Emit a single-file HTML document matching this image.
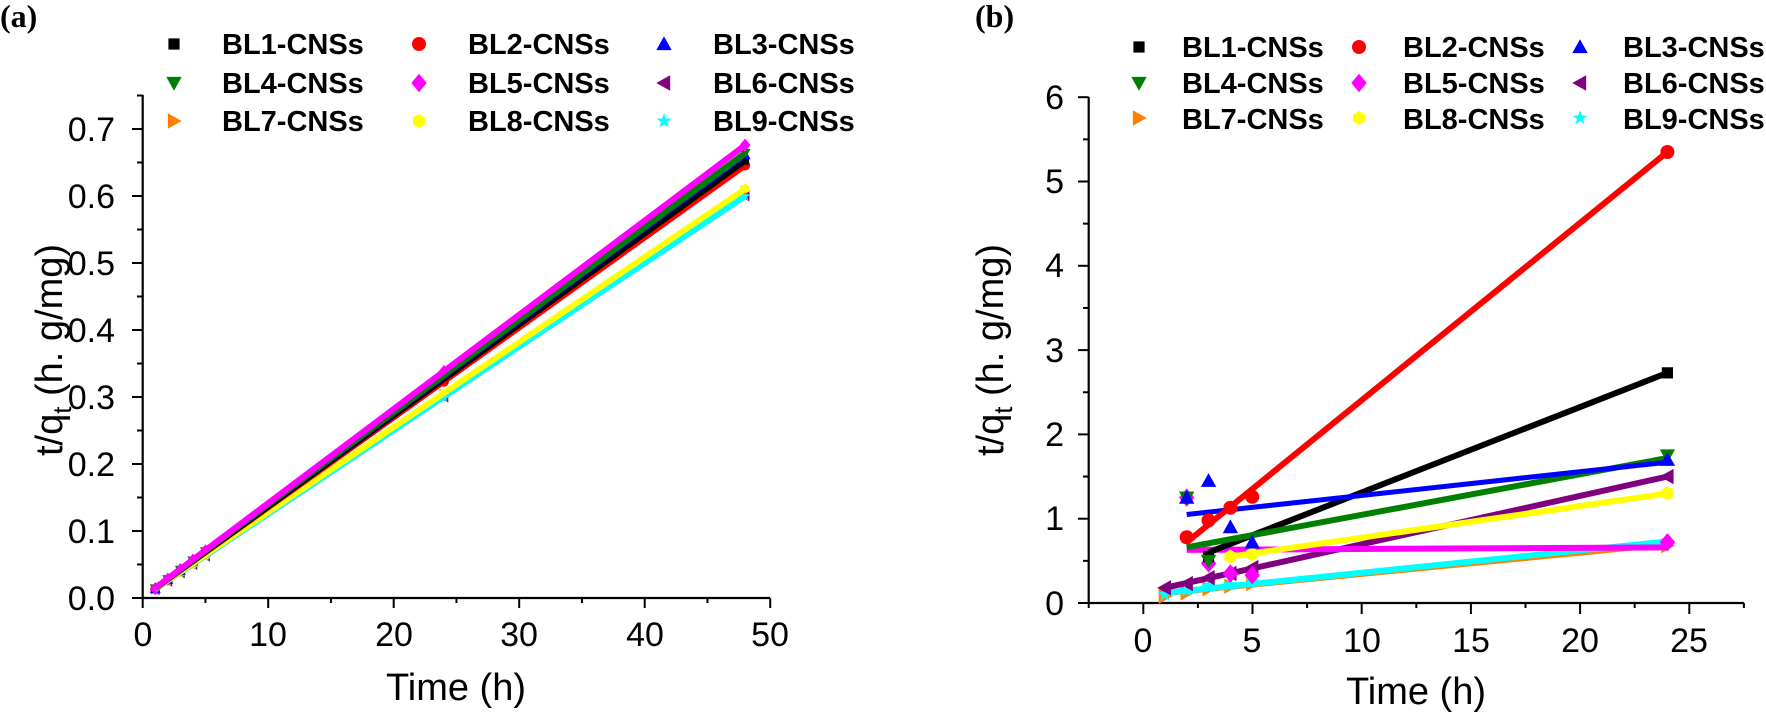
<!DOCTYPE html>
<html><head><meta charset="utf-8"><style>
html,body{margin:0;padding:0;background:#fff}
svg{display:block}
text{font-family:"Liberation Sans",Arial,sans-serif}
.tk{font-size:34px;fill:#000}
.lg{font-size:29px;font-weight:bold;fill:#000}
.at{font-size:38px;fill:#000}
.pl{font-family:"Liberation Serif",serif;font-size:32px;font-weight:bold}
</style></head><body>
<svg id="s" width="1766" height="718" viewBox="0 0 1766 718" xmlns="http://www.w3.org/2000/svg">
<text class="pl" x="0" y="27">(a)</text>
<text class="pl" x="975" y="27">(b)</text>
<g class="lg">
<text class="lg" x="222" y="54">BL1-CNSs</text><text class="lg" x="468" y="54">BL2-CNSs</text><text class="lg" x="713" y="54">BL3-CNSs</text>
<text class="lg" x="222" y="93">BL4-CNSs</text><text class="lg" x="468" y="93">BL5-CNSs</text><text class="lg" x="713" y="93">BL6-CNSs</text>
<text class="lg" x="222" y="131">BL7-CNSs</text><text class="lg" x="468" y="131">BL8-CNSs</text><text class="lg" x="713" y="131">BL9-CNSs</text>
<text class="lg" x="1182" y="57">BL1-CNSs</text><text class="lg" x="1403" y="57">BL2-CNSs</text><text class="lg" x="1623" y="57">BL3-CNSs</text>
<text class="lg" x="1182" y="93">BL4-CNSs</text><text class="lg" x="1403" y="93">BL5-CNSs</text><text class="lg" x="1623" y="93">BL6-CNSs</text>
<text class="lg" x="1182" y="129">BL7-CNSs</text><text class="lg" x="1403" y="129">BL8-CNSs</text><text class="lg" x="1623" y="129">BL9-CNSs</text>
</g>
<g class="tk" text-anchor="end">
<text class="tk" x="115" y="610">0.0</text><text class="tk" x="115" y="543">0.1</text><text class="tk" x="115" y="476">0.2</text><text class="tk" x="115" y="409">0.3</text><text class="tk" x="115" y="342">0.4</text><text class="tk" x="115" y="275">0.5</text><text class="tk" x="115" y="208">0.6</text><text class="tk" x="115" y="141">0.7</text>
</g>
<g class="tk" text-anchor="middle">
<text class="tk" x="143" y="646">0</text><text class="tk" x="268" y="646">10</text><text class="tk" x="394" y="646">20</text><text class="tk" x="519" y="646">30</text><text class="tk" x="645" y="646">40</text><text class="tk" x="770" y="646">50</text>
</g>
<g class="tk" text-anchor="end">
<text class="tk" x="1064" y="615">0</text><text class="tk" x="1064" y="530">1</text><text class="tk" x="1064" y="446">2</text><text class="tk" x="1064" y="362">3</text><text class="tk" x="1064" y="277">4</text><text class="tk" x="1064" y="193">5</text><text class="tk" x="1064" y="109">6</text>
</g>
<g class="tk" text-anchor="middle">
<text class="tk" x="1143" y="652">0</text><text class="tk" x="1252" y="652">5</text><text class="tk" x="1362" y="652">10</text><text class="tk" x="1471" y="652">15</text><text class="tk" x="1580" y="652">20</text><text class="tk" x="1689" y="652">25</text>
</g>
<text class="at" x="456" y="700" text-anchor="middle">Time (h)</text>
<text class="at" x="1416" y="704" text-anchor="middle">Time (h)</text>
<text class="at" transform="translate(62,350) rotate(-90)" text-anchor="middle">t/q<tspan font-size="26" dy="9">t</tspan><tspan dy="-9"> (h. g/mg)</tspan></text>
<text class="at" transform="translate(1003,350) rotate(-90)" text-anchor="middle">t/q<tspan font-size="26" dy="9">t</tspan><tspan dy="-9"> (h. g/mg)</tspan></text>
<g id="g"></g>
</svg>
<script>
var g=document.getElementById('g'),NS='http://www.w3.org/2000/svg';
function el(t,a){var e=document.createElementNS(NS,t);for(var k in a)e.setAttribute(k,a[k]);g.appendChild(e);return e;}
function line(x1,y1,x2,y2,c,w){el('line',{x1:x1,y1:y1,x2:x2,y2:y2,stroke:c,'stroke-width':w});}
function mk(type,x,y,c,r){r=r||7;var p;
 if(type=='sq')el('rect',{x:x-r*0.8,y:y-r*0.8,width:r*1.6,height:r*1.6,fill:c});
 else if(type=='ci')el('circle',{cx:x,cy:y,r:r,fill:c});
 else if(type=='hex'){p=[];for(var i=0;i<6;i++){var a=Math.PI/3*i+Math.PI/6;p.push((x+r*Math.cos(a))+','+(y+r*Math.sin(a)));}el('polygon',{points:p.join(' '),fill:c});}
 else if(type=='st'){p=[];for(var i=0;i<10;i++){var a=-Math.PI/2+Math.PI/5*i,rr=i%2?r*0.45:r*1.1;p.push((x+rr*Math.cos(a))+','+(y+rr*Math.sin(a)));}el('polygon',{points:p.join(' '),fill:c});}
 else{var pts={up:[[0,-1],[1,0.8],[-1,0.8]],dn:[[0,1],[1,-0.8],[-1,-0.8]],rt:[[1,0],[-0.8,-1],[-0.8,1]],lf:[[-1,0],[0.8,-1],[0.8,1]],di:[[0,-1.2],[1,0],[0,1.2],[-1,0]]}[type];
  el('polygon',{points:pts.map(function(q){return (x+q[0]*r*1.1)+','+(y+q[1]*r*1.1)}).join(' '),fill:c});}
}
var S=[['sq','#000'],['ci','#ff0000'],['up','#0000ff'],['dn','#008000'],['di','#ff00ff'],['lf','#800080'],['rt','#ff8000'],['hex','#ffff00'],['st','#00ffff']];
var cols=[174,419,664],rows=[44,83,121],colsb=[1139,1359,1580],rowsb=[47,83,118];
for(var i=0;i<9;i++){mk(S[i][0],cols[i%3],rows[Math.floor(i/3)],S[i][1],7);mk(S[i][0],colsb[i%3],rowsb[Math.floor(i/3)],S[i][1],7);}
var ax='#000';
line(142.7,95,142.7,599,ax,2.2);line(141.6,598,770,598,ax,2.2);
for(var i=0;i<=15;i++){var y=598-33.5*i;line(i%2?137:132,y,142.7,y,ax,2);}
for(var i=0;i<=10;i++){var x=142.7+62.75*i;line(x,598,x,i%2?603:608,ax,2);}
line(1088.7,97,1088.7,604,ax,2.2);line(1087.6,603,1744,603,ax,2.2);
for(var i=0;i<=12;i++){var y=603-42.15*i;line(i%2?1083:1078,y,1088.7,y,ax,2);}
for(var i=0;i<=12;i++){var x=1088.7+54.6*i;line(x,603,x,i%2?614:608,ax,2);}
function XA(x){return 142.7+12.55*x}function YA(y){return 598-670*y}
var A=[[0.0136,0.0136],[0.0134,0.01345],[0.0137,0.01378],[0.0138,0.01383],[0.0141,0.01408],[0.0125,0.0125],[0.0126,0.01266],[0.0127,0.01272],[0.0125,0.0125]];
var ord=[5,6,8,7,1,0,2,3,4];
ord.forEach(function(i){var s=A[i][1];
 [1,2,3,4,5,24,48].forEach(function(x){mk(S[i][0],XA(x),YA(s*x),S[i][1],5)});});
ord.forEach(function(i){var s=A[i][1];line(XA(1),YA(s*1+0.001),XA(48),YA(s*48),S[i][1],6);});
function XB(x){return 1143+21.85*x}function YB(y){return 603-84.3*y}
var B={
6:{l:[1,0.1,24,0.68],p:[[1,0.08],[2,0.12],[3,0.17],[4,0.2],[5,0.23],[24,0.68]],w:3},
8:{l:[1,0.12,24,0.73],p:[[1,0.1],[2,0.15],[3,0.2],[4,0.22],[5,0.26],[24,0.72]],w:6},
5:{l:[1,0.18,24,1.5],p:[[1,0.18],[2,0.23],[3,0.3],[4,0.35],[5,0.42],[24,1.5]],w:6},
4:{l:[2,0.63,24,0.66],p:[[2,1.25],[3,0.47],[4,0.35],[5,0.33],[24,0.72]],w:6},
7:{l:[4,0.55,24,1.3],p:[[4,0.55],[5,0.58],[24,1.3]],w:6},
0:{l:[3,0.6,24,2.73],p:[[3,0.55],[24,2.73]],w:6},
3:{l:[2,0.66,24,1.72],p:[[2,1.25],[3,0.5],[24,1.75]],w:6},
2:{l:[2,1.05,24,1.67],p:[[2,1.25],[3,1.45],[4,0.9],[5,0.72],[24,1.7]],w:5},
1:{l:[2,0.72,24,5.35],p:[[2,0.78],[3,0.98],[4,1.13],[5,1.26],[24,5.35]],w:6}};
[6,8,5,4,7,0,3,2,1].forEach(function(i){var d=B[i];
 line(XB(d.l[0]),YB(d.l[1]),XB(d.l[2]),YB(d.l[3]),S[i][1],d.w);
 d.p.forEach(function(q){mk(S[i][0],XB(q[0]),YB(q[1]),S[i][1],7)});});
</script>
</body></html>
